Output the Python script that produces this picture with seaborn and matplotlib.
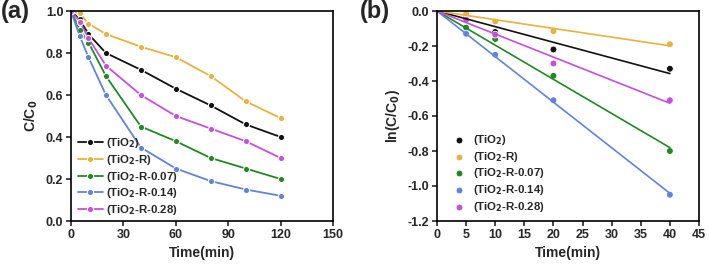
import numpy as np
import pandas as pd
import seaborn as sns
import matplotlib
matplotlib.use("Agg")
import matplotlib.pyplot as plt

# data
samples = ["(TiO$_2$)", "(TiO$_2$-R)", "(TiO$_2$-R-0.07)", "(TiO$_2$-R-0.14)", "(TiO$_2$-R-0.28)"]
colors = ["#111111", "#e8b23c", "#1f8a1f", "#5f83de", "#c64ee0"]

time_a = [0, 5, 10, 20, 40, 60, 80, 100, 120]
c_tio2 = [1.0, 0.96, 0.89, 0.80, 0.72, 0.63, 0.55, 0.46, 0.40]
c_r = [1.0, 0.99, 0.94, 0.89, 0.83, 0.78, 0.69, 0.57, 0.49]
c_007 = [1.0, 0.91, 0.85, 0.69, 0.45, 0.38, 0.30, 0.25, 0.20]
c_014 = [1.0, 0.88, 0.78, 0.60, 0.35, 0.25, 0.19, 0.15, 0.12]
c_028 = [1.0, 0.95, 0.87, 0.74, 0.60, 0.50, 0.44, 0.38, 0.30]

time_b = [0, 5, 10, 20, 40]
ln_tio2 = [0.0, -0.04, -0.12, -0.22, -0.33]
ln_r = [0.0, -0.015, -0.06, -0.115, -0.19]
ln_007 = [0.0, -0.095, -0.16, -0.37, -0.80]
ln_014 = [0.0, -0.13, -0.25, -0.51, -1.05]
ln_028 = [0.0, -0.05, -0.135, -0.30, -0.51]

sns.set_style("ticks")
plt.rcParams["font.family"] = ["Liberation Sans", "DejaVu Sans"]
plt.rcParams["font.weight"] = "bold"
plt.rcParams["axes.labelweight"] = "bold"
plt.rcParams["mathtext.default"] = "bf"

df_a = pd.DataFrame({"time": time_a * 5,
                     "val": c_tio2 + c_r + c_007 + c_014 + c_028,
                     "sample": sum([[s] * len(time_a) for s in samples], [])})
df_b = pd.DataFrame({"time": time_b * 5,
                     "val": ln_tio2 + ln_r + ln_007 + ln_014 + ln_028,
                     "sample": sum([[s] * len(time_b) for s in samples], [])})
pal = dict(zip(samples, colors))

fig = plt.figure(figsize=(7.09, 2.65), dpi=100)
ax1 = fig.add_axes([71 / 709, 1 - 221 / 265, 262 / 709, 210 / 265])
ax2 = fig.add_axes([437 / 709, 1 - 221 / 265, 262 / 709, 210 / 265])

mk = dict(marker="o", markersize=4.5, markeredgewidth=0.8, markeredgecolor="white")
sns.lineplot(data=df_a, x="time", y="val", hue="sample", palette=pal, ax=ax1,
             linewidth=1.3, legend=False, **mk)
for s, c in zip(samples, colors):
    ax1.plot([], [], color=c, linewidth=1.3, label=s, **mk)
ax1.set_xlim(0, 150)
ax1.set_ylim(0, 1.0)
ax1.set_xticks(range(0, 151, 30))
ax1.set_yticks(np.arange(0, 1.01, 0.2))
ax1.set_yticklabels([f"{v:.1f}" for v in np.arange(0, 1.01, 0.2)])
ax1.set_xlabel("Time(min)", fontsize=10)
ax1.set_ylabel("C/C$_0$", fontsize=10)
ax1.legend(loc="lower left", frameon=False, fontsize=8.2, handlelength=2.2,
           handletextpad=0.3, labelspacing=0.25, borderaxespad=0.2,
           bbox_to_anchor=(0.0, -0.015))

# scatter + linear fit through origin
sns.scatterplot(data=df_b[df_b["time"] > 0], x="time", y="val", hue="sample",
                palette=pal, ax=ax2, s=24, edgecolor="white", linewidth=0.6, legend=False)
xs = np.array(time_b, dtype=float)
for s, c in zip(samples, colors):
    ys = df_b[df_b["sample"] == s]["val"].to_numpy()
    k = (xs * ys).sum() / (xs * xs).sum()
    ax2.plot([0, 40], [0, 40 * k], color=c, linewidth=1.2)
    ax2.scatter([], [], color=c, s=24, edgecolor="white", linewidth=0.6, label=s)
ax2.set_xlim(0, 45)
ax2.set_ylim(-1.2, 0.0)
ax2.set_xticks(range(0, 46, 5))
ax2.set_yticks(np.arange(-1.2, 0.01, 0.2))
ax2.set_yticklabels([f"{v:.1f}" if abs(v) > 1e-9 else "0.0" for v in np.arange(-1.2, 0.01, 0.2)])
ax2.set_xlabel("Time(min)", fontsize=10)
ax2.set_ylabel("ln(C/C$_0$)", fontsize=10)
ax2.legend(loc="lower left", frameon=False, fontsize=8.2, handletextpad=0.2,
           labelspacing=0.25, borderaxespad=0.2, bbox_to_anchor=(0.015, 0.0))

for ax in (ax1, ax2):
    for sp in ax.spines.values():
        sp.set_linewidth(1.2)
        sp.set_color("black")
    ax.tick_params(direction="out", width=1.2, length=3.5, labelsize=9, pad=2)
    for t in ax.get_xticklabels() + ax.get_yticklabels():
        t.set_fontweight("bold")

fig.text(1 / 709, 1.0, "(a)", fontsize=17, fontweight="bold", va="top")
fig.text(360 / 709, 1.0, "(b)", fontsize=17, fontweight="bold", va="top")

fig.savefig("out.png", dpi=100)
